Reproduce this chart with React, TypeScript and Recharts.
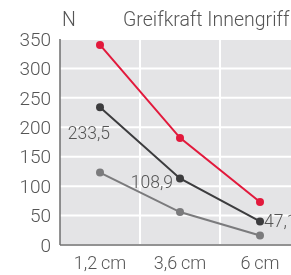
import React from "react";
import { LineChart, Line, XAxis, YAxis, CartesianGrid, LabelList } from "recharts";

const categories = ["1,2\u2009cm", "3,6\u2009cm", "6\u2009cm"];
const innengriffMax = [340, 182, 73];
const innengriffMid = [234, 113, 40];
const innengriffMin = [123, 56, 16];
const midLabels = ["233,5", "108,9", "47,1"];
const yTicks = [0, 50, 100, 150, 200, 250, 300, 350];

const data = categories.map((c, i) => ({
  cat: c,
  max: innengriffMax[i],
  mid: innengriffMid[i],
  min: innengriffMin[i],
  label: midLabels[i],
}));

const font = "Roboto, 'DejaVu Sans', sans-serif";
const textColor = "#555";

// where each annotation sits relative to its dot
const labelPlace = [
  { dx: 10, dy: 32, anchor: "end" },
  { dx: -7, dy: 10, anchor: "end" },
  { dx: 4, dy: 6, anchor: "start" },
];

function MidLabel(props: any) {
  const { x, y, index, value } = props;
  const p = labelPlace[index];
  return (
    <text
      x={x + p.dx}
      y={y + p.dy}
      textAnchor={p.anchor}
      fill={textColor}
      fontSize={17.5}
      fontWeight={300}
      fontFamily={font}
    >
      {value}
    </text>
  );
}

export default function App() {
  return (
    <div
      style={{
        position: "fixed",
        left: 8,
        top: 8,
        width: 283,
        height: 267,
        overflow: "hidden",
        fontFamily: font,
      }}
    >
      <div style={{ position: "absolute", left: 54, top: 0, fontSize: 19.5, fontWeight: 300, color: textColor }}>N</div>
      <div style={{ position: "absolute", left: 115, top: 0, fontSize: 19.5, fontWeight: 300, color: textColor, whiteSpace: "nowrap" }}>
        Greifkraft Innengriff
      </div>
      <LineChart width={302} height={267} data={data} margin={{ top: 31, right: 10, bottom: 0, left: 0 }}>
        <CartesianGrid
          fill="#e4e4e6"
          stroke="#fff"
          strokeWidth={2}
          verticalCoordinatesGenerator={({ offset }: any) =>
            categories.map((_, i) => offset.left + (i * offset.width) / categories.length).slice(1)
          }
        />
        <XAxis
          dataKey="cat"
          scale="band"
          tickLine={false}
          tickSize={0}
          tickMargin={11}
          axisLine={{ stroke: "#6e6e6e", strokeWidth: 1.5 }}
          tick={{ fill: textColor, fontSize: 18, fontWeight: 300, fontFamily: font }}
          height={30}
        />
        <YAxis
          domain={[0, 350]}
          ticks={yTicks}
          interval={0}
          tickLine={false}
          tickSize={0}
          tickMargin={9}
          axisLine={{ stroke: "#6e6e6e", strokeWidth: 1.5 }}
          tick={{ fill: textColor, fontSize: 19, fontWeight: 300, fontFamily: font }}
          width={52}
        />
        <Line
          dataKey="min"
          stroke="#7b7b7d"
          strokeWidth={2}
          dot={{ r: 4, fill: "#7b7b7d", stroke: "none" }}
          isAnimationActive={false}
        />
        <Line
          dataKey="mid"
          stroke="#3c3c3e"
          strokeWidth={2}
          dot={{ r: 4, fill: "#3c3c3e", stroke: "none" }}
          isAnimationActive={false}
        >
          <LabelList dataKey="label" content={MidLabel} />
        </Line>
        <Line
          dataKey="max"
          stroke="#e2193c"
          strokeWidth={2}
          dot={{ r: 4, fill: "#e2193c", stroke: "none" }}
          isAnimationActive={false}
        />
      </LineChart>
    </div>
  );
}
